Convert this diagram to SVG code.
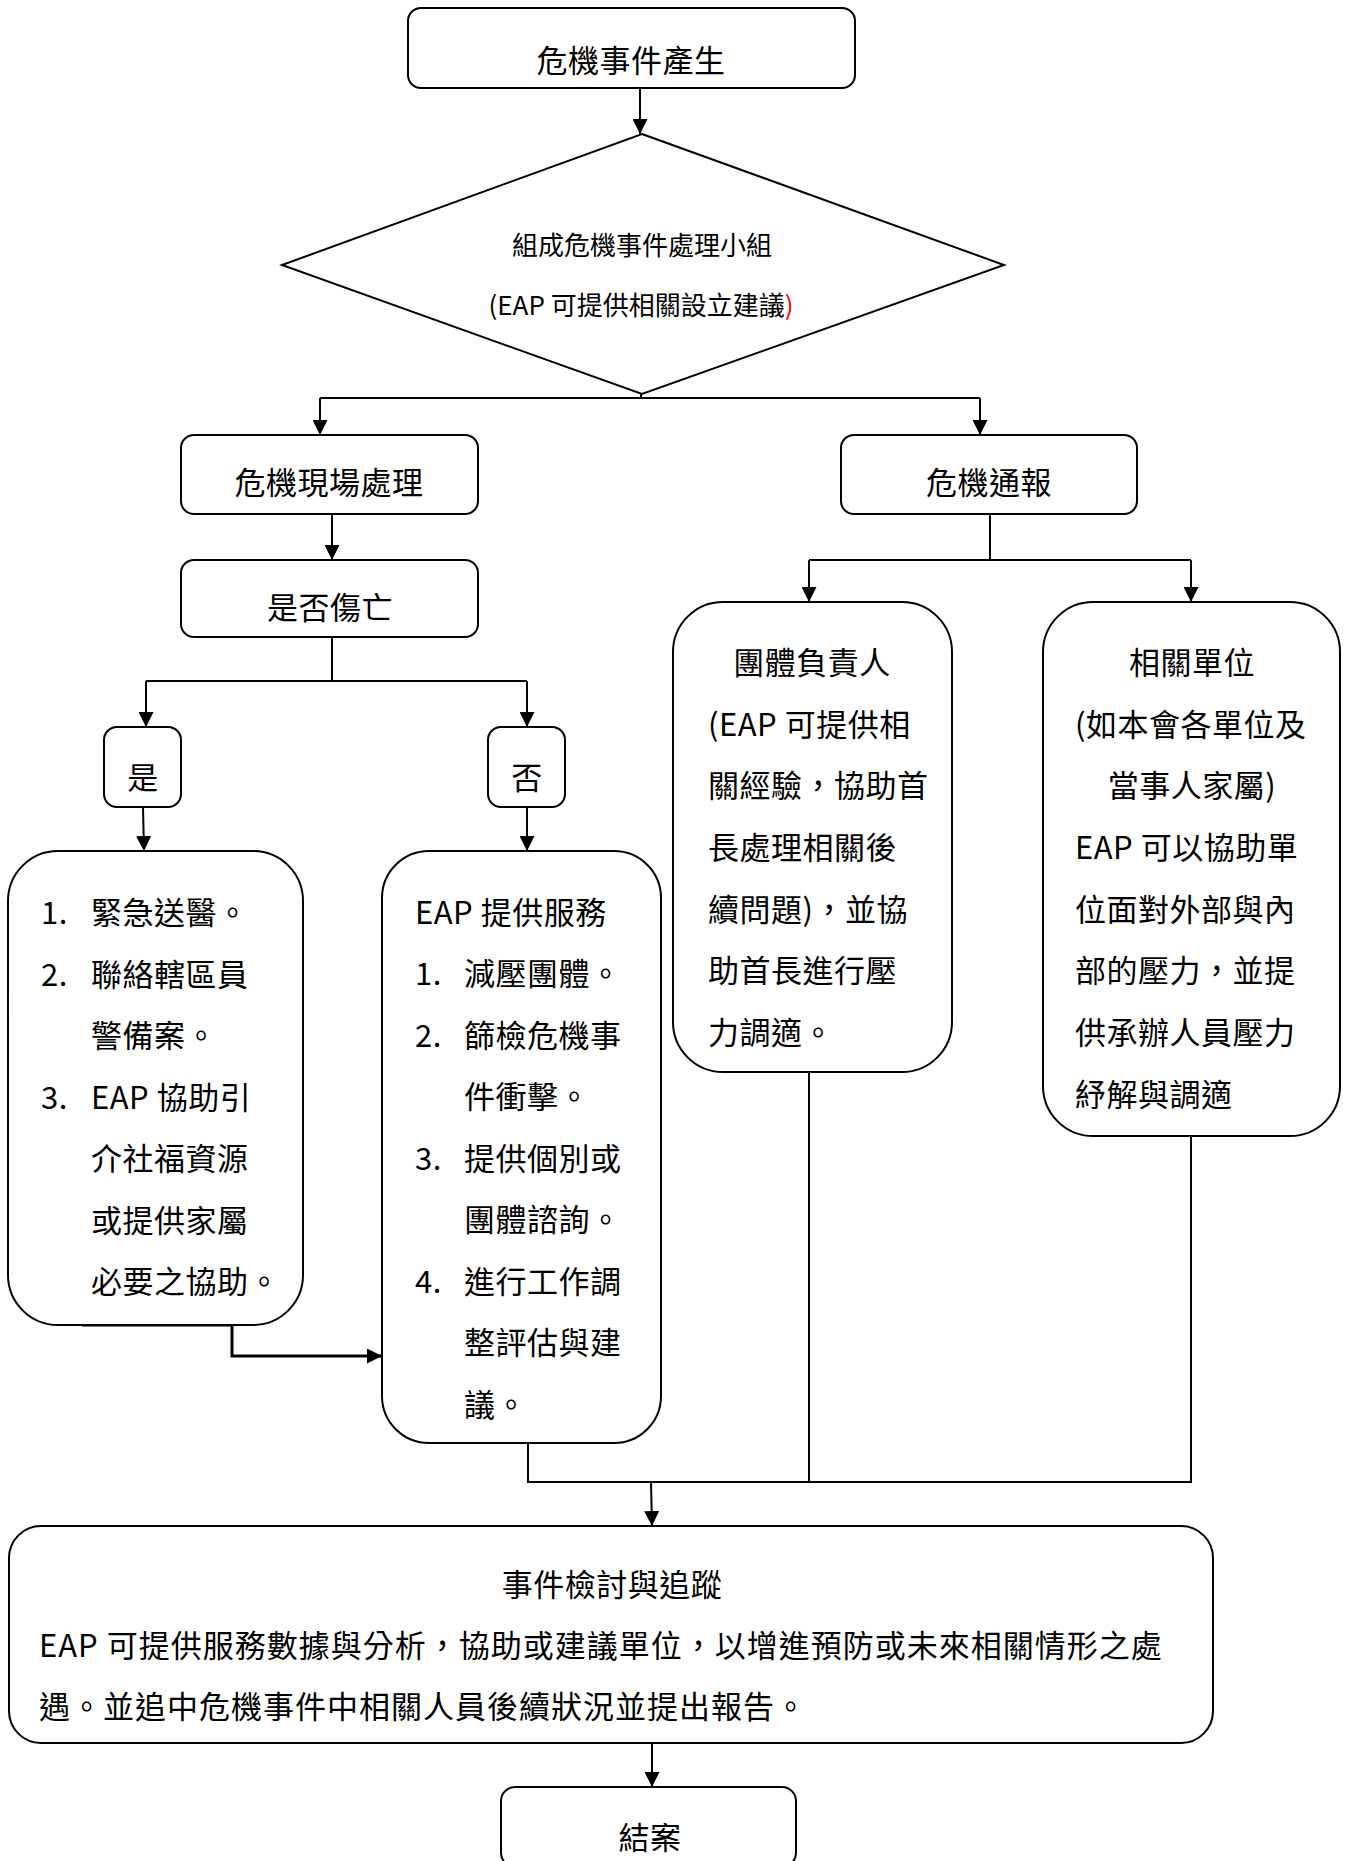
<svg xmlns="http://www.w3.org/2000/svg" width="1347" height="1861" viewBox="0 0 1347 1861">
<style>
.box{fill:#fff;stroke:#000;stroke-width:2}
.ln{fill:none;stroke:#000;stroke-width:2}
.thick{fill:none;stroke:#000;stroke-width:3}
text{font-family:"Noto Sans CJK TC","Noto Sans CJK SC",sans-serif;fill:#000;dominant-baseline:central}
.t{font-size:31px;letter-spacing:0.5px}
.c{text-anchor:middle}
.d{font-size:26px}
.b{font-size:31px;letter-spacing:1px}
</style>
<defs>
<marker id="ah" markerUnits="userSpaceOnUse" markerWidth="15" markerHeight="15" refX="15" refY="7.5" orient="auto">
<path d="M0,0 L15,7.5 L0,15 z" fill="#000"/>
</marker>
</defs>
<rect width="1347" height="1861" fill="#fff"/>

<g id="connectors">
<line class="ln" x1="640" y1="88" x2="640" y2="134" marker-end="url(#ah)"/>
<line class="ln" x1="641" y1="394" x2="641" y2="398"/>
<path class="ln" d="M320,398 H980"/>
<line class="ln" x1="320" y1="398" x2="320" y2="435" marker-end="url(#ah)"/>
<line class="ln" x1="980" y1="398" x2="980" y2="435" marker-end="url(#ah)"/>
<line class="ln" x1="332" y1="514" x2="332" y2="560" marker-end="url(#ah)"/>
<line class="ln" x1="332" y1="637" x2="332" y2="681"/>
<path class="ln" d="M146,681 H527"/>
<line class="ln" x1="146" y1="681" x2="146" y2="727" marker-end="url(#ah)"/>
<line class="ln" x1="527" y1="681" x2="527" y2="727" marker-end="url(#ah)"/>
<line class="ln" x1="143" y1="807" x2="144" y2="851" marker-end="url(#ah)"/>
<line class="ln" x1="527" y1="807" x2="527" y2="851" marker-end="url(#ah)"/>
<line class="ln" x1="990" y1="514" x2="990" y2="560"/>
<path class="ln" d="M809,560 H1191"/>
<line class="ln" x1="809" y1="560" x2="809" y2="602" marker-end="url(#ah)"/>
<line class="ln" x1="1191" y1="560" x2="1191" y2="602" marker-end="url(#ah)"/>
<path class="thick" d="M82,1325 H232 V1356 H382" marker-end="url(#ah)"/>
<path class="ln" d="M528,1443 V1482 H1191 V1136"/>
<line class="ln" x1="809" y1="1072" x2="809" y2="1482"/>
<line class="ln" x1="651" y1="1482" x2="652" y2="1526" marker-end="url(#ah)"/>
<line class="ln" x1="652" y1="1743" x2="652" y2="1787" marker-end="url(#ah)"/>
</g>

<g id="start">
<rect class="box" x="408" y="8" width="447" height="80" rx="13"/>
<text class="t c" x="631" y="58">危機事件產生</text>
</g>

<g id="decision">
<polygon class="box" points="642,134 1004,265 642,394 282,265"/>
<text class="d c" x="642" y="243">組成危機事件處理小組</text>
<text class="d c" x="641" y="303">(EAP 可提供相關設立建議<tspan fill="#ff0000">)</tspan></text>
</g>

<g id="onsite">
<rect class="box" x="181" y="435" width="297" height="79" rx="13"/>
<text class="t c" x="329" y="480">危機現場處理</text>
</g>

<g id="report">
<rect class="box" x="841" y="435" width="296" height="79" rx="13"/>
<text class="t c" x="989" y="480">危機通報</text>
</g>

<g id="casualty">
<rect class="box" x="181" y="560" width="297" height="77" rx="13"/>
<text class="t c" x="330" y="605">是否傷亡</text>
</g>

<g id="yes">
<rect class="box" x="104" y="727" width="77" height="80" rx="13"/>
<text class="t c" x="143" y="775">是</text>
</g>

<g id="no">
<rect class="box" x="488" y="727" width="77" height="80" rx="13"/>
<text class="t c" x="527" y="775">否</text>
</g>

<g id="yes-actions">
<rect class="box" x="8" y="851" width="295" height="474" rx="50"/>
<text class="t" x="41" y="910">1.</text><text class="t" x="91" y="910">緊急送醫。</text>
<text class="t" x="41" y="972">2.</text><text class="t" x="91" y="972">聯絡轄區員</text>
<text class="t" x="91" y="1033">警備案。</text>
<text class="t" x="41" y="1095">3.</text><text class="t" x="91" y="1095">EAP 協助引</text>
<text class="t" x="91" y="1156">介社福資源</text>
<text class="t" x="91" y="1218">或提供家屬</text>
<text class="t" x="91" y="1279">必要之協助。</text>
</g>

<g id="no-actions">
<rect class="box" x="382" y="851" width="279" height="592" rx="47"/>
<text class="t" x="415" y="910">EAP 提供服務</text>
<text class="t" x="415" y="971">1.</text><text class="t" x="464" y="971">減壓團體。</text>
<text class="t" x="415" y="1033">2.</text><text class="t" x="464" y="1033">篩檢危機事</text>
<text class="t" x="464" y="1094">件衝擊。</text>
<text class="t" x="415" y="1156">3.</text><text class="t" x="464" y="1156">提供個別或</text>
<text class="t" x="464" y="1217">團體諮詢。</text>
<text class="t" x="415" y="1279">4.</text><text class="t" x="464" y="1279">進行工作調</text>
<text class="t" x="464" y="1340">整評估與建</text>
<text class="t" x="464" y="1402">議。</text>
</g>

<g id="leader">
<rect class="box" x="673" y="602" width="279" height="470" rx="50"/>
<text class="t c" x="812" y="660">團體負責人</text>
<text class="t" x="708" y="722">(EAP 可提供相</text>
<text class="t" x="708" y="783">關經驗，協助首</text>
<text class="t" x="708" y="845">長處理相關後</text>
<text class="t" x="708" y="907">續問題)，並協</text>
<text class="t" x="708" y="968">助首長進行壓</text>
<text class="t" x="708" y="1030">力調適。</text>
</g>

<g id="units">
<rect class="box" x="1043" y="602" width="297" height="534" rx="50"/>
<text class="t c" x="1192" y="660">相關單位</text>
<text class="t" x="1075" y="722">(如本會各單位及</text>
<text class="t c" x="1192" y="783">當事人家屬)</text>
<text class="t" x="1075" y="845">EAP 可以協助單</text>
<text class="t" x="1075" y="907">位面對外部與內</text>
<text class="t" x="1075" y="968">部的壓力，並提</text>
<text class="t" x="1075" y="1030">供承辦人員壓力</text>
<text class="t" x="1075" y="1092">紓解與調適</text>
</g>

<g id="review">
<rect class="box" x="9" y="1526" width="1204" height="217" rx="32"/>
<text class="t c" x="612" y="1582">事件檢討與追蹤</text>
<text class="b" x="39" y="1643">EAP 可提供服務數據與分析，協助或建議單位，以增進預防或未來相關情形之處</text>
<text class="b" x="39" y="1704">遇。並追中危機事件中相關人員後續狀況並提出報告。</text>
</g>

<g id="end">
<rect class="box" x="501" y="1787" width="295" height="80" rx="14"/>
<text class="t c" x="650" y="1835">結案</text>
</g>
</svg>
